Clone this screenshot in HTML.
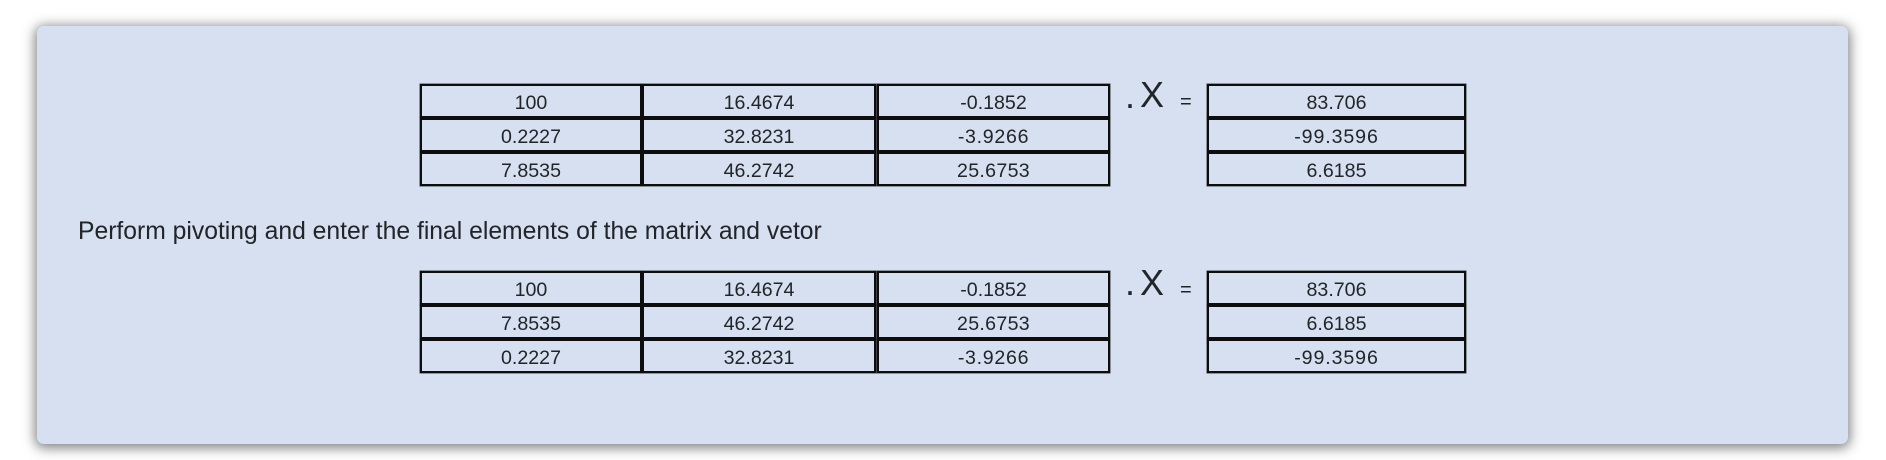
<!DOCTYPE html>
<html lang="en">
<head>
<meta charset="utf-8">
<title>Pivoting matrix</title>
<style>
html,body{margin:0;padding:0;width:1886px;height:460px;background:#fff;overflow:hidden}
body{position:relative;font-family:"Liberation Sans",sans-serif;color:#212529}
.panel{position:absolute;left:37px;top:26px;width:1811px;height:418px;background:#d6e0f0;border-radius:7px;box-shadow:0 2px 12px 2px rgba(0,0,0,.5)}
.c{position:absolute;box-sizing:border-box;border:2px solid #0d0d0d;box-shadow:0 0 0 .5px rgba(13,13,13,.75);height:34px;line-height:34.5px;text-align:center;font-size:19.6px;white-space:nowrap}
.t{position:absolute;white-space:nowrap;line-height:1}
.c1{left:420px;width:222px}
.c2{left:642px;width:234px}
.c3{left:877px;width:233px}
.v{left:1207px;width:259px}
.w1{letter-spacing:.3px}
.w2{letter-spacing:.7px}
.w3{letter-spacing:.9px}
</style>
</head>
<body>
<div class="panel"></div>

<div class="c c1" style="top:84px">100</div>
<div class="c c2" style="top:84px">16.4674</div>
<div class="c c3" style="top:84px">-0.1852</div>
<div class="c c1" style="top:118px">0.2227</div>
<div class="c c2" style="top:118px">32.8231</div>
<div class="c c3 w2" style="top:118px">-3.9266</div>
<div class="c c1" style="top:152px">7.8535</div>
<div class="c c2" style="top:152px">46.2742</div>
<div class="c c3 w1" style="top:152px">25.6753</div>

<div class="t" style="left:1125px;top:78px;font-size:36px">.</div>
<div class="t" style="left:1140px;top:77px;font-size:36px">X</div>
<div class="t" style="left:1180px;top:92px;font-size:20px">=</div>

<div class="c v" style="top:84px">83.706</div>
<div class="c v w3" style="top:118px">-99.3596</div>
<div class="c v" style="top:152px">6.6185</div>

<div class="t" style="left:78px;top:220px;font-size:24.7px">Perform pivoting and enter the final elements of the matrix and vetor</div>

<div class="c c1" style="top:271px">100</div>
<div class="c c2" style="top:271px">16.4674</div>
<div class="c c3" style="top:271px">-0.1852</div>
<div class="c c1" style="top:305px">7.8535</div>
<div class="c c2" style="top:305px">46.2742</div>
<div class="c c3 w1" style="top:305px">25.6753</div>
<div class="c c1" style="top:339px">0.2227</div>
<div class="c c2" style="top:339px">32.8231</div>
<div class="c c3 w2" style="top:339px">-3.9266</div>

<div class="t" style="left:1125px;top:265px;font-size:36px">.</div>
<div class="t" style="left:1140px;top:265px;font-size:36px">X</div>
<div class="t" style="left:1180px;top:280px;font-size:20px">=</div>

<div class="c v" style="top:271px">83.706</div>
<div class="c v" style="top:305px">6.6185</div>
<div class="c v w3" style="top:339px">-99.3596</div>
</body>
</html>
